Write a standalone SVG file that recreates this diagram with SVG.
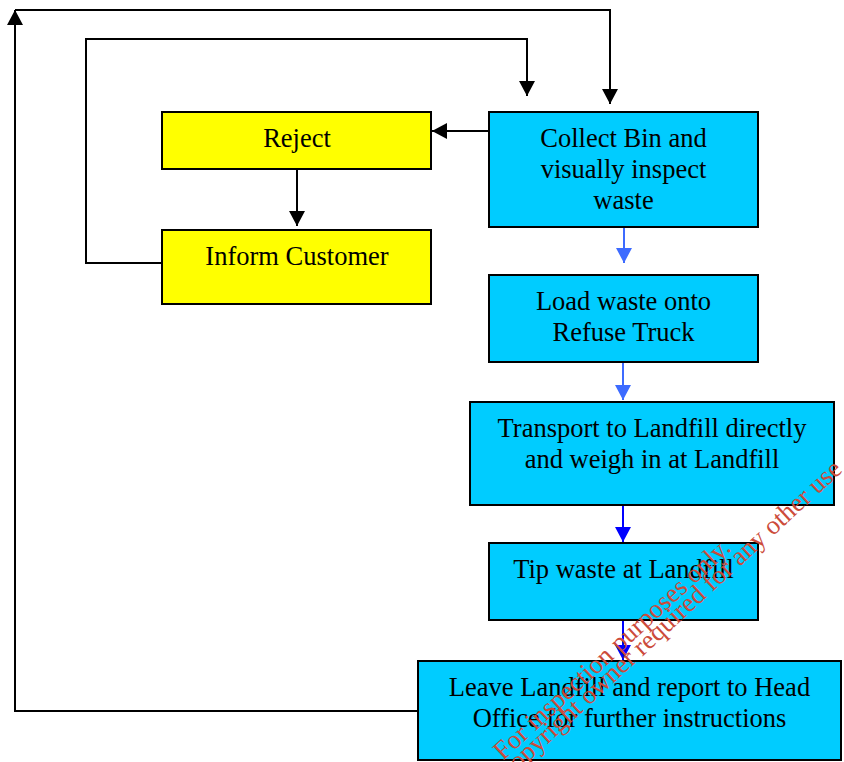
<svg xmlns="http://www.w3.org/2000/svg" width="844" height="762" viewBox="0 0 844 762">
<defs>
<marker id="ab" markerUnits="userSpaceOnUse" markerWidth="16" markerHeight="16" viewBox="0 0 15 16" refX="15" refY="8" orient="auto"><path d="M0,0 L15,8 L0,16 Z" fill="#000"/></marker>
<marker id="al" markerUnits="userSpaceOnUse" markerWidth="16" markerHeight="16" viewBox="0 0 15 16" refX="15" refY="8" orient="auto"><path d="M0,0 L15,8 L0,16 Z" fill="#3d6bff"/></marker>
<marker id="ad" markerUnits="userSpaceOnUse" markerWidth="16" markerHeight="16" viewBox="0 0 15 16" refX="15" refY="8" orient="auto"><path d="M0,0 L15,8 L0,16 Z" fill="#0000ff"/></marker>
</defs>
<style>
.box{stroke:#000;stroke-width:2}
.c{fill:#00ccff}
.y{fill:#ffff00}
.t{font-family:"Liberation Serif","Times New Roman",serif;font-size:26.5px;fill:#000;text-anchor:middle}
.k{fill:none;stroke:#000;stroke-width:2}
.lb{fill:none;stroke:#3d6bff;stroke-width:2}
.db{fill:none;stroke:#0000ff;stroke-width:2}
.wm{font-family:"Liberation Serif","Times New Roman",serif;font-size:26.5px;fill:#cc4b3b}
</style>
<rect width="844" height="762" fill="#fff"/>
<g id="connectors">
<path class="k" d="M418,711 H15 V10" marker-end="url(#ab)"/>
<path class="k" d="M15,10 H610 V104" marker-end="url(#ab)"/>
<path class="k" d="M162,263 H86 V39 H527 V96" marker-end="url(#ab)"/>
<path class="k" d="M489,131 H432" marker-end="url(#ab)"/>
<path class="k" d="M297,170 V226" marker-end="url(#ab)"/>
<path class="lb" d="M624,228 V263" marker-end="url(#al)"/>
<path class="lb" d="M623,362 V400" marker-end="url(#al)"/>
<path class="db" d="M623,505 V542" marker-end="url(#ad)"/>
<path class="db" d="M623,620 V660" marker-end="url(#ad)"/>
</g>
<g id="reject"><rect class="box y" x="162" y="112" width="269" height="57"/><text class="t" x="297" y="146.7">Reject</text></g>
<g id="inform"><rect class="box y" x="162" y="230" width="269" height="74"/><text class="t" x="297" y="264.7">Inform Customer</text></g>
<g id="collect"><rect class="box c" x="489" y="112" width="269" height="115"/><text class="t" x="623.5" y="146.7">Collect Bin and</text><text class="t" x="623.5" y="177.7">visually inspect</text><text class="t" x="623.5" y="208.7">waste</text></g>
<g id="load"><rect class="box c" x="489" y="275" width="269" height="87"/><text class="t" x="623.5" y="309.7">Load waste onto</text><text class="t" x="623.5" y="340.7">Refuse Truck</text></g>
<g id="transport"><rect class="box c" x="470" y="402" width="364" height="103"/><text class="t" x="652" y="436.7">Transport to Landfill directly</text><text class="t" x="652" y="467.7">and weigh in at Landfill</text></g>
<g id="tip"><rect class="box c" x="489" y="543" width="269" height="77"/><text class="t" x="623.5" y="577.7">Tip waste at Landfill</text></g>
<g id="leave"><rect class="box c" x="418" y="661" width="423" height="99"/><text class="t" x="629.5" y="695.7">Leave Landfill and report to Head</text><text class="t" x="629.5" y="726.7">Office for further instructions</text></g>
<g id="watermark">
<text class="wm" transform="translate(503,761) rotate(-42.7)">For inspection purposes only.</text>
<text class="wm" text-anchor="end" transform="translate(843.5,471) rotate(-42.7)">Consent of copyright owner required for any other use</text>
</g>
</svg>
